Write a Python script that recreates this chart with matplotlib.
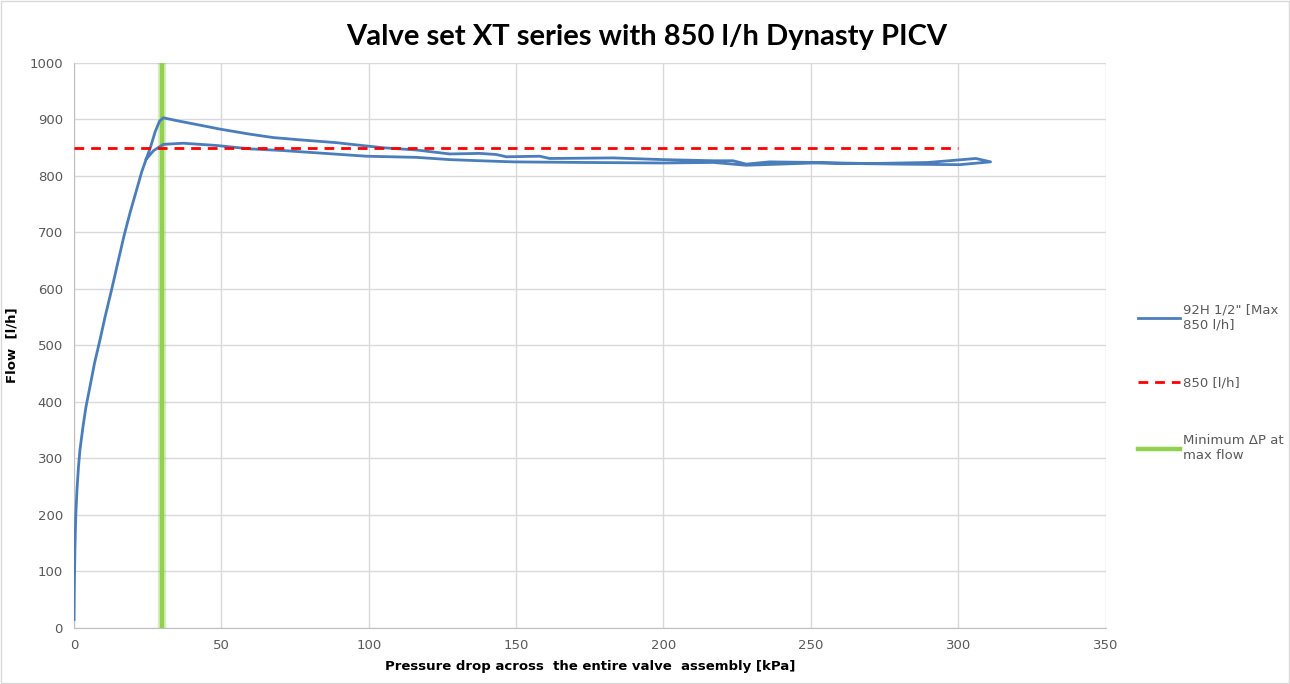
import numpy as np
import matplotlib
matplotlib.use('Agg')
import matplotlib.pyplot as plt
from matplotlib.patches import Rectangle

# rising part of the curve (kPa, l/h)
rise_x = [0.0, 0.1, 0.3, 0.6, 1.0, 1.5, 2.0, 3.0, 4.0, 5.5, 7.0, 8.8, 10.5,
          12.8, 15.0, 17.0, 19.0, 21.2, 23.0, 24.5, 26.0, 27.5, 29.0]
rise_y = [15, 70, 140, 200, 245, 285, 315, 355, 390, 430, 470, 510, 550,
          600, 650, 695, 735, 775, 808, 830, 852, 878, 897]

# upper branch going out
upper_x = [30.3, 34.8, 42.7, 49.5, 59.7, 67.6, 76.6, 89.0, 95.9, 104.9, 116.2,
           127.5, 137.7, 143.3, 146.7, 158.0, 161.4, 182.9, 199.9, 216.9, 223.6,
           228.1, 236.0, 250.6, 270.0, 290.0, 306.0, 311.0]
upper_y = [903, 898, 890, 883, 874, 868, 864, 859, 855, 850, 846,
           839, 840, 838, 834, 835, 831, 832, 829, 827, 827,
           821, 825, 824, 822, 824, 831, 825]

# lower branch coming back
lower_x = [300.4, 280.0, 250.7, 228.1, 216.9, 199.9, 171.6, 149.0, 137.7, 127.5,
           116.2, 99.2, 82.3, 71.0, 59.7, 48.4, 37.1, 30.3, 27.0, 24.5]
lower_y = [820, 821, 823, 819, 824, 823, 824, 825, 827, 829,
           833, 835, 841, 845, 848, 854, 858, 856, 845, 830]

flow_x = rise_x + upper_x + lower_x
flow_y = rise_y + upper_y + lower_y

ref_x = [0, 300]
ref_y = [850, 850]

min_dp = 30

fig = plt.figure(figsize=(12.9, 6.84), dpi=100)
ax = fig.add_axes([0.0574, 0.0819, 0.7996, 0.826])

grid_c = '#d9d9d9'
text_c = '#595959'

ax.plot(flow_x, flow_y, color='#4a7ebb', lw=2.0, label='92H 1/2" [Max\n850 l/h]', zorder=3)
ax.plot(ref_x, ref_y, color='#ff0000', lw=2.0, ls=(0, (3.5, 2.5)), label='850 [l/h]', zorder=4)
# soft glow + core for the green marker line
ax.axvline(min_dp, color='#92d050', lw=6, alpha=0.35, zorder=2)
ax.axvline(min_dp, color='#92d050', lw=3.2, label='Minimum ΔP at\nmax flow', zorder=2)

ax.set_xlim(0, 350)
ax.set_ylim(0, 1000)
ax.set_xticks(np.arange(0, 351, 50))
ax.set_yticks(np.arange(0, 1001, 100))
ax.grid(True, color=grid_c, lw=1)
ax.set_axisbelow(True)
for s in ['top', 'right']:
    ax.spines[s].set_visible(False)
for s in ['left', 'bottom']:
    ax.spines[s].set_color('#bfbfbf')
ax.tick_params(length=0, colors=text_c, labelsize=9.5, pad=8)

ax.set_xlabel('Pressure drop across  the entire valve  assembly [kPa]', fontsize=9.5,
              fontweight='bold', labelpad=6)
ax.set_ylabel('Flow  [l/h]', fontsize=9.5, fontweight='bold', labelpad=8)

fig.suptitle('Valve set XT series with 850 l/h Dynasty PICV', x=0.501, y=0.965,
             fontsize=21, fontweight='bold', family='Lato')

leg = fig.legend(loc='center left', bbox_to_anchor=(0.873, 0.44), frameon=False,
                 fontsize=9.5, labelspacing=3.4, handlelength=3.2, handletextpad=0.2)
for t in leg.get_texts():
    t.set_color(text_c)
leg.legend_handles[2].set_linewidth(3.2)

fig.add_artist(Rectangle((0.001, 0.001), 0.998, 0.997, transform=fig.transFigure,
                         fill=False, edgecolor='#d9d9d9', lw=1))

fig.savefig('out.png', dpi=100)
